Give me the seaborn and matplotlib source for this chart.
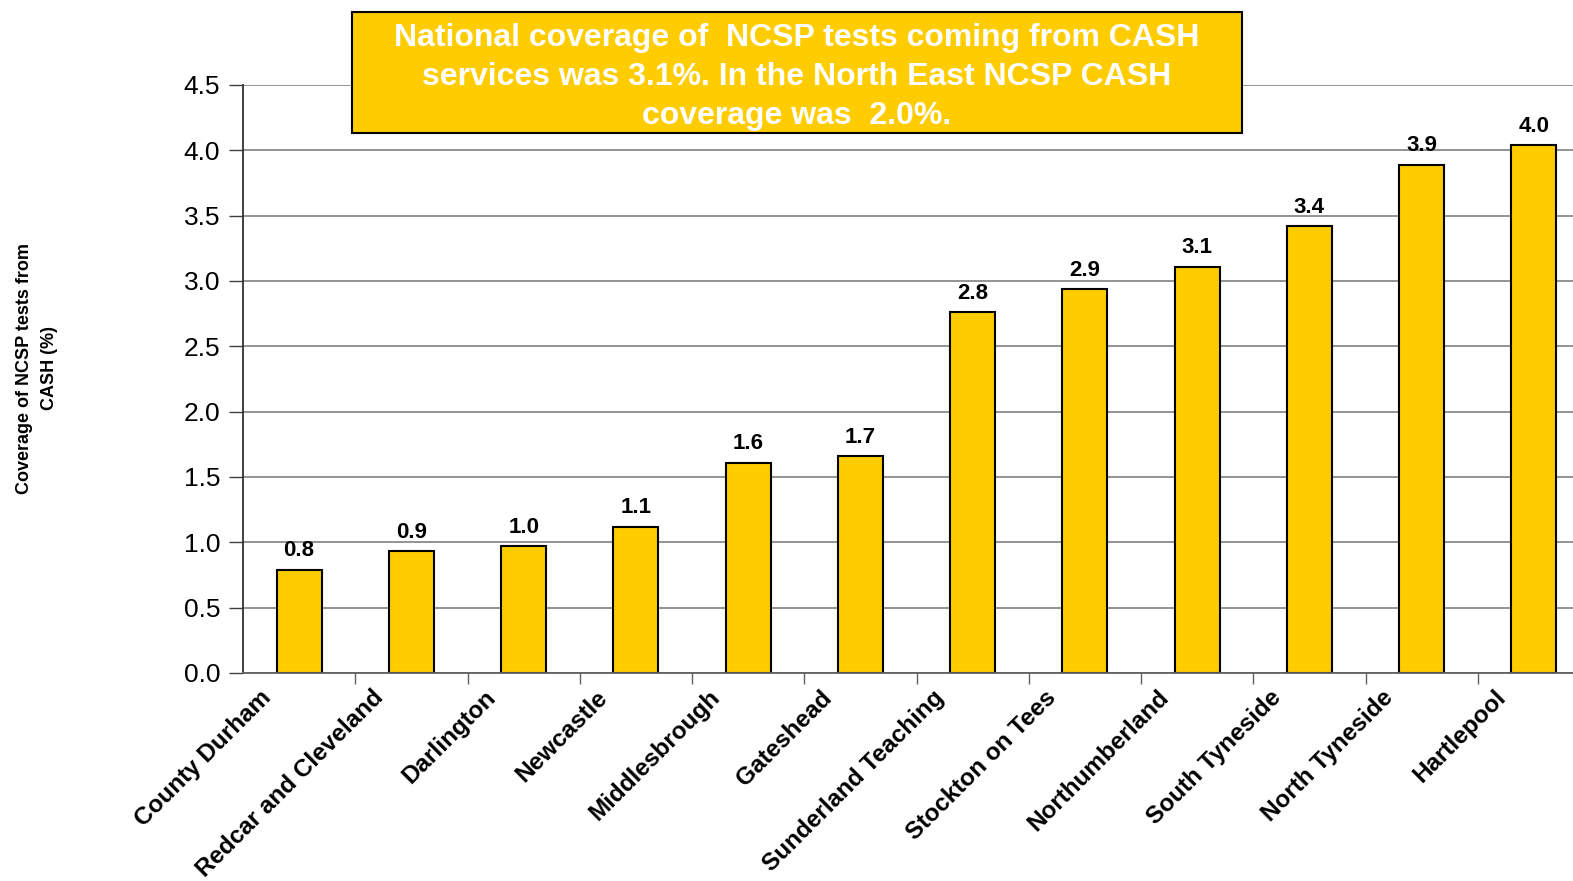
import matplotlib
matplotlib.use("Agg")
import matplotlib.pyplot as plt
import matplotlib.transforms as mtransforms
import seaborn as sns
import numpy as np

areas = ["County Durham", "Redcar and Cleveland", "Darlington", "Newcastle",
         "Middlesbrough", "Gateshead", "Sunderland Teaching", "Stockton on Tees",
         "Northumberland", "South Tyneside", "North Tyneside", "Hartlepool"]
coverage = [0.79, 0.93, 0.97, 1.12, 1.61, 1.66, 2.76, 2.94, 3.11, 3.42, 3.89, 4.04]
y_ticks = [0.0, 0.5, 1.0, 1.5, 2.0, 2.5, 3.0, 3.5, 4.0, 4.5]
box_text = ("National coverage of  NCSP tests coming from CASH\n"
            "services was 3.1%. In the North East NCSP CASH\n"
            "coverage was  2.0%.")

sns.set_style("white")
plt.rcParams['font.family'] = ['Liberation Sans', 'DejaVu Sans']

fig = plt.figure(figsize=(15.73, 8.81), dpi=100)
ax = fig.add_axes([243 / 1573, 208 / 881, (1590 - 243) / 1573, (673 - 85) / 881])

sns.barplot(x=areas, y=coverage, color="#FFCC00", edgecolor="black",
            linewidth=1.5, width=0.4, saturation=1, ax=ax)
ax.bar_label(ax.containers[0], fmt="%.1f", padding=6, fontsize=16,
             fontweight="bold", color="black")

ax.set_xlim(-0.5, len(areas) - 0.5)
ax.set_ylim(0, 4.5)
ax.set_yticks(y_ticks)
ax.set_yticklabels([f"{t:.1f}" for t in y_ticks], fontsize=19, color="black")
ax.yaxis.grid(True, color="#808080", linewidth=1.2)
ax.set_axisbelow(True)
ax.tick_params(axis="y", which="major", left=True, length=10, width=1,
               color="#404040", pad=6.5)

# tick marks between categories, labels on minor ticks
ax.set_xticks(np.arange(len(areas)) + 0.5)
ax.set_xticklabels([])
ax.tick_params(axis="x", which="major", bottom=True, length=8, width=1, color="#606060")
ax.set_xticks(np.arange(len(areas)), minor=True)
ax.set_xticklabels(areas, minor=True, rotation=45, ha="right", va="top",
                   rotation_mode="anchor", fontsize=17.5, fontweight="bold", color="black")
ax.tick_params(axis="x", which="minor", length=0, pad=8)
shift = mtransforms.ScaledTranslation(-0.40, -0.02, fig.dpi_scale_trans)
for lbl in ax.get_xticklabels(minor=True):
    lbl.set_transform(lbl.get_transform() + shift)

for side in ["top", "right"]:
    ax.spines[side].set_visible(False)
ax.spines["left"].set_color("#303030")
ax.spines["left"].set_linewidth(1.3)
ax.spines["bottom"].set_color("#606060")
ax.spines["bottom"].set_linewidth(1.3)

fig.text(37 / 1573, 1 - 368 / 881, "Coverage of NCSP tests from\nCASH (%)",
         rotation=90, ha="center", va="center", fontsize=13,
         fontweight="bold", linespacing=1.6, color="black")

box = plt.Rectangle((352 / 1573, 1 - 133 / 881), (1242 - 352) / 1573, 121 / 881,
                    transform=fig.transFigure, facecolor="#FFCC00",
                    edgecolor="black", linewidth=1.5, zorder=4)
fig.add_artist(box)
fig.text(797 / 1573, 1 - 77 / 881, box_text, ha="center", va="center",
         color="white", fontsize=23, fontweight="bold",
         linespacing=1.4, zorder=5)

fig.savefig("out.png", dpi=100)
